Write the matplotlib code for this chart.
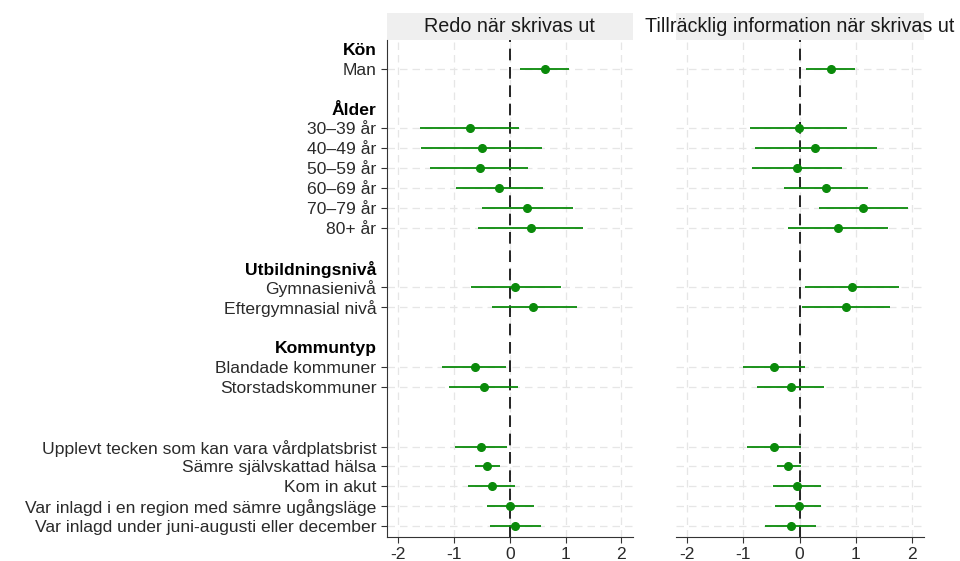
import matplotlib.pyplot as plt
from matplotlib.patches import Rectangle

plt.rcParams['font.family'] = ['Liberation Sans', 'DejaVu Sans']

# rows from top to bottom ('' = empty row)
rows = ["Kön", "Man", "",
        "Ålder", "30–39 år", "40–49 år", "50–59 år", "60–69 år", "70–79 år", "80+ år", "",
        "Utbildningsnivå", "Gymnasienivå", "Eftergymnasial nivå", "",
        "Kommuntyp", "Blandade kommuner", "Storstadskommuner", "", "",
        "Upplevt tecken som kan vara vårdplatsbrist", "Sämre självskattad hälsa",
        "Kom in akut", "Var inlagd i en region med sämre ugångsläge",
        "Var inlagd under juni-augusti eller december"]
headers = ["Kön", "Ålder", "Utbildningsnivå", "Kommuntyp"]

terms = ["Man", "30–39 år", "40–49 år", "50–59 år", "60–69 år", "70–79 år", "80+ år",
         "Gymnasienivå", "Eftergymnasial nivå", "Blandade kommuner", "Storstadskommuner",
         "Upplevt tecken som kan vara vårdplatsbrist", "Sämre självskattad hälsa",
         "Kom in akut", "Var inlagd i en region med sämre ugångsläge",
         "Var inlagd under juni-augusti eller december"]

titles = ["Redo när skrivas ut", "Tillräcklig information när skrivas ut"]

redo_est = [0.63, -0.71, -0.50, -0.54, -0.19, 0.31, 0.38, 0.10, 0.42, -0.63, -0.47,
            -0.51, -0.41, -0.32, 0.00, 0.10]
redo_lo = [0.19, -1.61, -1.59, -1.42, -0.97, -0.50, -0.56, -0.70, -0.32, -1.21, -1.08,
           -0.98, -0.63, -0.75, -0.41, -0.35]
redo_hi = [1.06, 0.17, 0.58, 0.33, 0.60, 1.14, 1.32, 0.91, 1.20, -0.06, 0.15,
           -0.05, -0.18, 0.10, 0.43, 0.56]

info_est = [0.55, -0.01, 0.28, -0.05, 0.46, 1.13, 0.68, 0.93, 0.82, -0.46, -0.16,
            -0.45, -0.20, -0.05, -0.02, -0.16]
info_lo = [0.11, -0.88, -0.80, -0.85, -0.27, 0.34, -0.20, 0.10, 0.04, -1.01, -0.76,
           -0.94, -0.41, -0.48, -0.43, -0.61]
info_hi = [0.98, 0.84, 1.37, 0.76, 1.21, 1.93, 1.57, 1.77, 1.60, 0.10, 0.43,
           0.03, 0.02, 0.38, 0.38, 0.29]

green = '#0a8a0a'
fig = plt.figure(figsize=(9.6, 5.61), dpi=100)
ax1 = fig.add_axes([0.403, 0.0428, 0.256, 0.886])
ax2 = fig.add_axes([0.704, 0.0428, 0.258, 0.886])

ypos = [rows.index(t) for t in terms]
label_rows = [i for i, r in enumerate(rows) if r]

for ax, est, lo, hi, title in [(ax1, redo_est, redo_lo, redo_hi, titles[0]),
                               (ax2, info_est, info_lo, info_hi, titles[1])]:
    for x in [-2, -1, 0, 1, 2]:
        ax.axvline(x, color='#e6e6e6', lw=0.9, ls=(0, (6, 4)), zorder=0)
    for y in ypos:
        ax.axhline(y, color='#e6e6e6', lw=0.9, ls=(0, (6, 4)), zorder=0)
    ax.axvline(0, color='black', lw=1.2, ls=(0, (7, 4)), zorder=1)
    ax.hlines(ypos, lo, hi, color=green, lw=1.3, zorder=2)
    ax.plot(est, ypos, 'o', color=green, ms=5.5, zorder=3)

    ax.set_xlim(-2.2, 2.2)
    ax.set_ylim(24.55, -0.45)
    ax.set_xticks([-2, -1, 0, 1, 2])
    ax.set_xticklabels(['-2', '-1', '0', '1', '2'])
    ax.tick_params(axis='x', labelsize=12.6, colors='#333333', labelcolor='#2a2a2a',
                   length=4)
    for s in ['top', 'right']:
        ax.spines[s].set_visible(False)
    ax.spines['bottom'].set_color('#333333')
    ax.spines['left'].set_color('#333333')

    strip_h = 27 / 497
    ax.add_patch(Rectangle((0, 1), 1, strip_h, transform=ax.transAxes,
                           facecolor='#efefef', edgecolor='none', clip_on=False))
    ax.text(0.5, 1 + strip_h / 2, title, transform=ax.transAxes, ha='center',
            va='center', fontsize=14.2, color='#1a1a1a')

ax1.set_yticks(label_rows)
ax1.set_yticklabels([rows[i] for i in label_rows])
ax1.tick_params(axis='y', labelsize=12.6, colors='#333333', length=4)
for tick, i in zip(ax1.yaxis.get_major_ticks(), label_rows):
    tick.label1.set_color('#2a2a2a')
    if rows[i] in headers:
        tick.tick1line.set_visible(False)
        tick.label1.set_fontweight('bold')
        tick.label1.set_color('black')

ax2.spines['left'].set_visible(False)
ax2.set_yticks([])

fig.savefig('out.png', dpi=100)
